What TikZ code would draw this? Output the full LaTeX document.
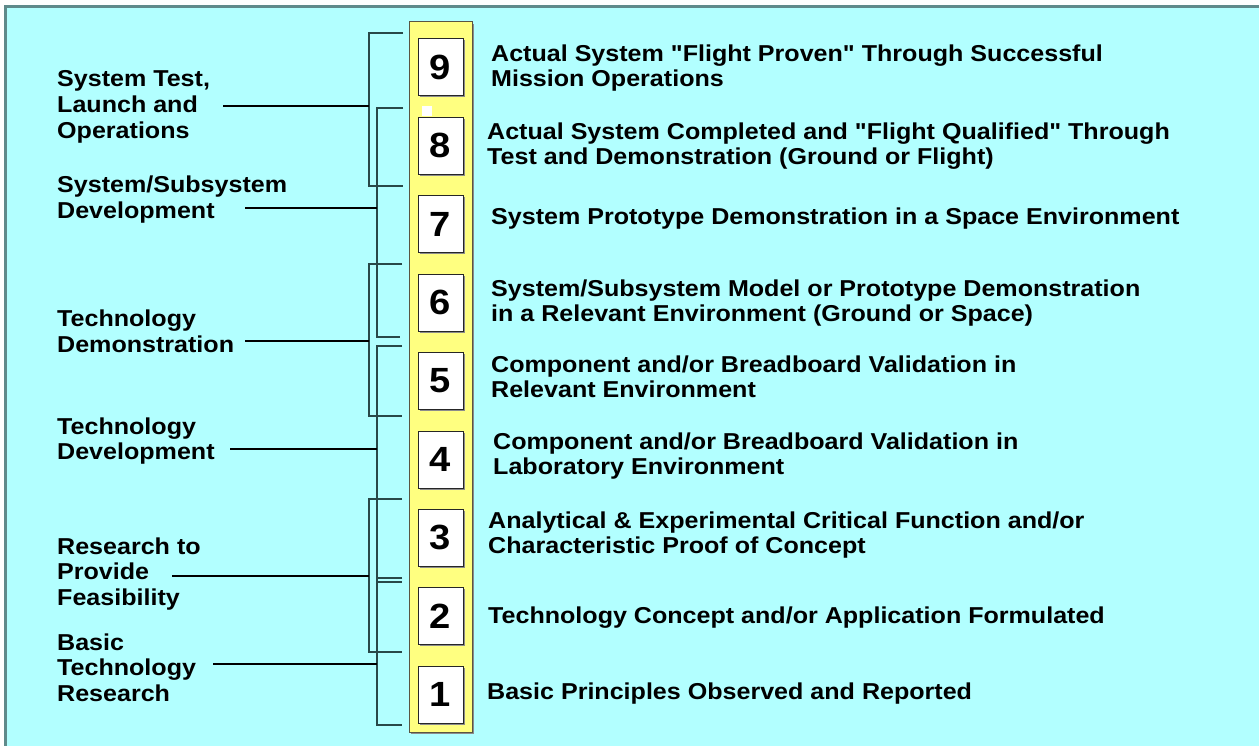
\documentclass[tikz,border=0pt]{standalone}
\usepackage{fontspec}
\setmainfont{Liberation Sans}[Ligatures=TeXOff, FakeStretch=1.09]
\usetikzlibrary{shadows}
\definecolor{bgcyan}{RGB}{178,255,255}
\definecolor{colyellow}{RGB}{255,255,128}
\definecolor{framec}{RGB}{95,138,139}
\definecolor{brkc}{RGB}{40,72,72}
\begin{document}
\begin{tikzpicture}[x=1pt,y=-1pt,
  lbl/.style={font=\bfseries\fontsize{23}{25.8}\selectfont, align=left, anchor=base west, inner sep=0pt},
  desc/.style={font=\bfseries\fontsize{23}{24.7}\selectfont, align=left, anchor=base west, inner sep=0pt},
  numbox/.style={draw=black!85, fill=white, line width=1pt, minimum width=45pt, minimum height=57pt, inner sep=0pt,
     font=\bfseries\fontsize{35}{35}\selectfont,
     drop shadow={shadow xshift=1.5pt, shadow yshift=-1.5pt, fill=black!45, opacity=1}},
  brk/.style={draw=brkc, line width=1.5pt},
  lead/.style={draw=black, line width=2pt}]
\useasboundingbox (0,0) rectangle (1259,746);
\fill[white] (0,0) rectangle (1259,746);
\begin{scope}
\clip (0,0) rectangle (1259,746);
\draw[framec, line width=2.5pt, fill=bgcyan] (5.5,6.5) rectangle (1275,760);
\end{scope}

% yellow column
\fill[black!45] (411,24) rectangle (474,734);
\draw[fill=colyellow, draw=black!75!yellow, line width=1pt] (409,22) rectangle (472,732);

% level boxes
\node[numbox] (n9) at (440.5,67.5) {9};
\node[numbox] (n8) at (440.5,145.9) {8};
\node[numbox] (n7) at (440.5,224.3) {7};
\node[numbox] (n6) at (440.5,302.7) {6};
\node[numbox] (n5) at (440.5,381.1) {5};
\node[numbox] (n4) at (440.5,459.5) {4};
\node[numbox] (n3) at (440.5,537.9) {3};
\node[numbox] (n2) at (440.5,616.3) {2};
\node[numbox] (n1) at (440.5,694.7) {1};
\fill[white] (422,106) rectangle (432,116);

% descriptions (anchored at the baseline of their last line)
\node[desc] (d9) at (491,86.5) {Actual System "Flight Proven" Through Successful\\Mission Operations};
\node[desc] (d8) at (487,164.5) {Actual System Completed and "Flight Qualified" Through\\Test and Demonstration (Ground or Flight)};
\node[desc] (d7) at (491,225) {System Prototype Demonstration in a Space Environment};
\node[desc] (d6) at (491,321.5) {System/Subsystem Model or Prototype Demonstration\\in a Relevant Environment (Ground or Space)};
\node[desc] (d5) at (491,397.5) {Component and/or Breadboard Validation in\\Relevant Environment};
\node[desc] (d4) at (493,474.5) {Component and/or Breadboard Validation in\\Laboratory Environment};
\node[desc] (d3) at (488,553.5) {Analytical \& Experimental Critical Function and/or\\Characteristic Proof of Concept};
\node[desc] (d2) at (488,623) {Technology Concept and/or Application Formulated};
\node[desc] (d1) at (487,699) {Basic Principles Observed and Reported};

% phase labels (anchored at the baseline of their last line)
\node[lbl] (pa) at (57,138.6) {System Test,\\Launch and\\Operations};
\node[lbl] (pb) at (57,218.8) {System/Subsystem\\Development};
\node[lbl] (pc) at (57,352.8) {Technology\\Demonstration};
\node[lbl] (pd) at (57,459.8) {Technology\\Development};
\node[lbl] (pe) at (57,605.6) {Research to\\Provide\\Feasibility};
\node[lbl] (pf) at (57,701.6) {Basic\\Technology\\Research};

% bracket tips
\coordinate (a1) at (403,33);  \coordinate (a2) at (403,186);
\coordinate (b1) at (403,108); \coordinate (b2) at (400,337);
\coordinate (c1) at (402,264); \coordinate (c2) at (402,416);
\coordinate (e1) at (402,346); \coordinate (e2) at (402,582);
\coordinate (f1) at (402,499); \coordinate (f2) at (402,652);
\coordinate (g1) at (402,578); \coordinate (g2) at (402,725);
\draw[brk] (a1) -- (369,33) -- (369,186) -- (a2);
\draw[brk] (b1) -- (377,108) -- (377,337) -- (b2);
\draw[brk] (c1) -- (369,264) -- (369,416) -- (c2);
\draw[brk] (e1) -- (377,346) -- (377,582) -- (e2);
\draw[brk] (f1) -- (369,499) -- (369,652) -- (f2);
\draw[brk] (g1) -- (377,578) -- (377,725) -- (g2);

% leader lines
\coordinate (la) at (223,106); \coordinate (ja) at (369,106);
\coordinate (lb) at (245,208); \coordinate (jb) at (377,208);
\coordinate (lc) at (245,341); \coordinate (jc) at (369,341);
\coordinate (ld) at (230,449); \coordinate (jd) at (377,449);
\coordinate (le) at (172,576); \coordinate (je) at (369,576);
\coordinate (lf) at (213,664); \coordinate (jf) at (377,664);
\draw[lead] (la) -- (ja);
\draw[lead] (lb) -- (jb);
\draw[lead] (lc) -- (jc);
\draw[lead] (ld) -- (jd);
\draw[lead] (le) -- (je);
\draw[lead] (lf) -- (jf);
\end{tikzpicture}
\end{document}
